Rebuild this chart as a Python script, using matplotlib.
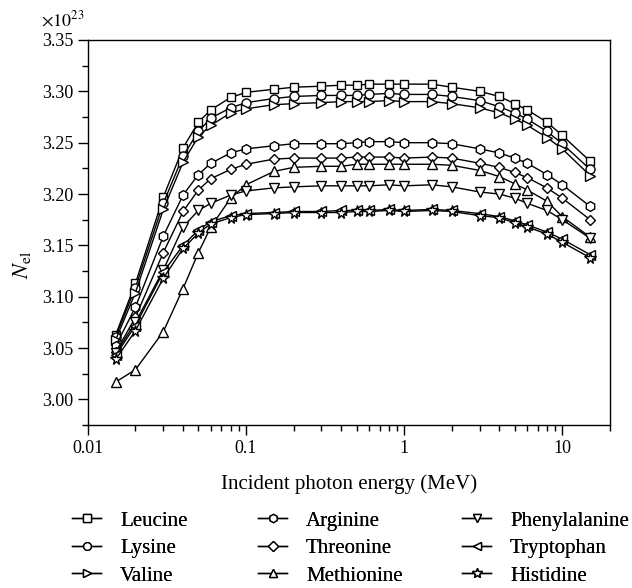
import matplotlib
matplotlib.use('Agg')
import matplotlib.pyplot as plt
from matplotlib.ticker import MultipleLocator, FixedLocator, LogLocator, NullFormatter, FormatStrFormatter

plt.rcParams['font.family'] = ['Liberation Serif', 'DejaVu Serif']
plt.rcParams['mathtext.fontset'] = 'stix'

energy = [0.015, 0.02, 0.03, 0.04, 0.05, 0.06, 0.08, 0.1, 0.15, 0.2, 0.3, 0.4, 0.5,
          0.6, 0.8, 1, 1.5, 2, 3, 4, 5, 6, 8, 10, 15]

leucine = [3.063, 3.113, 3.197, 3.245, 3.270, 3.282, 3.294, 3.299, 3.302, 3.304, 3.305, 3.306, 3.306,
           3.307, 3.307, 3.307, 3.307, 3.304, 3.300, 3.295, 3.288, 3.282, 3.270, 3.257, 3.232]
lysine = [3.061, 3.109, 3.191, 3.237, 3.261, 3.274, 3.284, 3.289, 3.293, 3.295, 3.296, 3.296, 3.296,
          3.297, 3.298, 3.297, 3.297, 3.295, 3.291, 3.285, 3.279, 3.273, 3.261, 3.249, 3.224]
valine = [3.058, 3.104, 3.185, 3.231, 3.256, 3.267, 3.279, 3.283, 3.287, 3.288, 3.289, 3.290, 3.290,
          3.290, 3.291, 3.290, 3.290, 3.288, 3.284, 3.279, 3.273, 3.267, 3.255, 3.244, 3.218]
arginine = [3.052, 3.090, 3.159, 3.199, 3.219, 3.230, 3.240, 3.244, 3.247, 3.249, 3.249, 3.249, 3.250,
            3.251, 3.251, 3.250, 3.250, 3.249, 3.244, 3.240, 3.235, 3.230, 3.219, 3.209, 3.188]
threonine = [3.046, 3.080, 3.143, 3.183, 3.204, 3.215, 3.224, 3.229, 3.234, 3.235, 3.235, 3.235, 3.236,
             3.236, 3.236, 3.235, 3.236, 3.235, 3.230, 3.226, 3.221, 3.216, 3.206, 3.196, 3.175]
methionine = [3.017, 3.029, 3.066, 3.108, 3.143, 3.168, 3.196, 3.209, 3.222, 3.226, 3.227, 3.227, 3.229,
              3.229, 3.229, 3.229, 3.229, 3.228, 3.223, 3.217, 3.210, 3.204, 3.193, 3.178, 3.158]
phenylalanine = [3.045, 3.075, 3.126, 3.168, 3.184, 3.191, 3.199, 3.203, 3.206, 3.207, 3.208, 3.208, 3.208,
                 3.208, 3.209, 3.208, 3.209, 3.207, 3.202, 3.200, 3.196, 3.191, 3.184, 3.175, 3.157]
tryptophan = [3.043, 3.072, 3.124, 3.150, 3.165, 3.173, 3.179, 3.181, 3.182, 3.183, 3.183, 3.184, 3.184,
              3.184, 3.185, 3.184, 3.185, 3.184, 3.181, 3.178, 3.174, 3.170, 3.163, 3.156, 3.141]
histidine = [3.039, 3.067, 3.118, 3.147, 3.162, 3.171, 3.177, 3.180, 3.181, 3.182, 3.182, 3.182, 3.183,
             3.183, 3.184, 3.183, 3.184, 3.183, 3.179, 3.177, 3.172, 3.168, 3.161, 3.153, 3.138]

# three legend columns, top to bottom
series = [
    ('Leucine', leucine, 's', 6),
    ('Lysine', lysine, 'o', 6.5),
    ('Valine', valine, '>', 7),
    ('Arginine', arginine, 'h', 7),
    ('Threonine', threonine, 'D', 5.5),
    ('Methionine', methionine, '^', 7),
    ('Phenylalanine', phenylalanine, 'v', 7),
    ('Tryptophan', tryptophan, '<', 7),
    ('Histidine', histidine, '*', 8.5),
]

fig = plt.figure(figsize=(6.32, 5.88), dpi=100)
ax = fig.add_axes([0.139, 0.277, 0.826, 0.655])

for name, vals, mk, ms in series:
    ax.plot(energy, vals, color='black', lw=1, marker=mk, markersize=ms,
            markerfacecolor='white', markeredgecolor='black', markeredgewidth=1, label=name)

ax.set_xscale('log')
ax.set_xlim(0.01, 20)
ax.set_ylim(2.975, 3.35)
ax.xaxis.set_major_locator(FixedLocator([0.01, 0.1, 1, 10]))
ax.set_xticklabels(['0.01', '0.1', '1', '10'])
ax.xaxis.set_minor_locator(LogLocator(base=10, subs=range(2, 10), numticks=20))
ax.xaxis.set_minor_formatter(NullFormatter())
ax.yaxis.set_major_locator(MultipleLocator(0.05))
ax.yaxis.set_minor_locator(MultipleLocator(0.025))
ax.yaxis.set_major_formatter(FormatStrFormatter('%.2f'))
ax.tick_params(which='major', direction='out', length=7, width=1, labelsize=13, top=False, right=False)
ax.tick_params(which='minor', direction='out', length=4, width=1, top=False, right=False)
for s in ax.spines.values():
    s.set_linewidth(1)

ax.set_xlabel('Incident photon energy (MeV)', fontsize=15, labelpad=13)
ax.set_ylabel(r'$N_{\mathrm{el}}$', fontsize=16)
ax.yaxis.set_label_coords(-0.105, 0.416)
ax.text(-0.09, 1.025, r'$\times 10^{23}$', transform=ax.transAxes, fontsize=13, ha='left', va='bottom')

handles, labels = ax.get_legend_handles_labels()
col_x = [72, 258, 462]
for i, x0 in enumerate(col_x):
    leg = fig.legend(handles[3 * i:3 * i + 3], labels[3 * i:3 * i + 3], loc='upper left',
                     bbox_to_anchor=(x0 / 632, 1 - 511 / 588), frameon=False, fontsize=15,
                     handlelength=1.4, handletextpad=0.9, labelspacing=0.38,
                     borderpad=0, borderaxespad=0, markerscale=0.85)
    fig.add_artist(leg)

fig.savefig('out.png', dpi=100)
